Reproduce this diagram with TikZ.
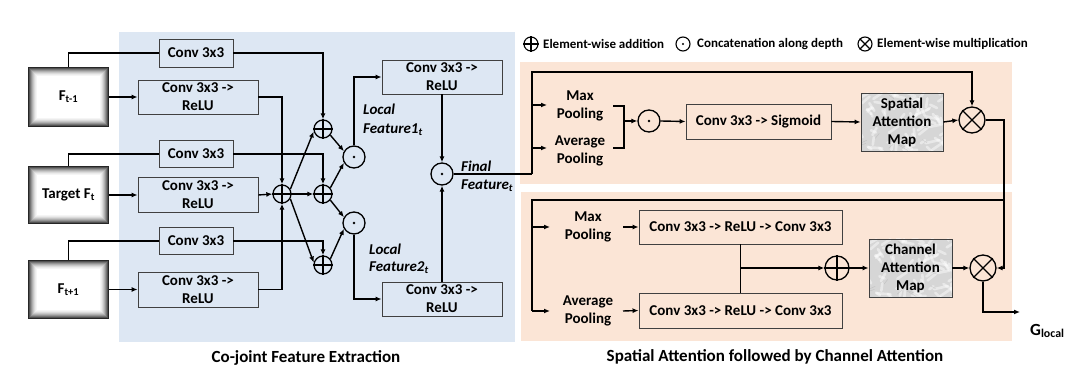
\documentclass[tikz,border=0pt]{standalone}
\usepackage{fontspec}
\setmainfont{Carlito}
\usetikzlibrary{arrows.meta,calc}
\definecolor{bluebg}{RGB}{221,231,243}
\definecolor{orbg}{RGB}{251,229,214}
\definecolor{edgec}{RGB}{64,64,64}
\begin{document}
\begin{tikzpicture}[x=1pt,y=-1pt,
  conn/.style={line width=1.4pt},
  arr/.style={line width=1.4pt,-{Latex[length=6pt,width=5pt]}},
  blk/.style={draw=edgec,line width=0.9pt,inner sep=0,align=center,font=\bfseries\fontsize{15}{18}\selectfont},
  op/.style={circle,draw=black,line width=1.3pt,inner sep=0},
  txt/.style={font=\bfseries\fontsize{15}{18}\selectfont,align=center,inner sep=0},
  itxt/.style={font=\bfseries\itshape\fontsize{15}{18}\selectfont,anchor=west,inner sep=0},
  lgtxt/.style={font=\bfseries\fontsize{13}{15}\selectfont,anchor=west,inner sep=0},
  ttl/.style={font=\bfseries\fontsize{17}{20}\selectfont,inner sep=0},
  inbox/.style={inner sep=0,align=center,font=\bfseries\fontsize{15}{18}\selectfont,fill=white,
    path picture={
      \foreach \i/\c in {0/15,1/32,2/46,3/58,4/69,5/78,6/86,7/92,8/96,9/100}{
        \fill[white!\c!black] ([shift={(\i pt,-\i pt)}]path picture bounding box.north west)
          rectangle ([shift={(-\i pt,\i pt)}]path picture bounding box.south east);
      }
    }},
  mapbox/.style={blk,fill=black!16,
    path picture={
      \pgfmathsetseed{11}
      \foreach \k in {1,...,70}{
        \pgfmathsetmacro\xa{rand*42}\pgfmathsetmacro\ya{rand*30}
        \pgfmathsetmacro\xb{\xa+rand*14}\pgfmathsetmacro\yb{\ya+rand*9}
        \draw[white,opacity=.45,line width=2.6pt,line cap=round]
          ([shift={(\xa pt,\ya pt)}]path picture bounding box.center) --
          ([shift={(\xb pt,\yb pt)}]path picture bounding box.center);
      }
      \foreach \k in {1,...,12}{
        \pgfmathsetmacro\xa{rand*42}\pgfmathsetmacro\ya{rand*30}
        \pgfmathsetmacro\xb{\xa+rand*10}\pgfmathsetmacro\yb{\ya+rand*6}
        \draw[black!40,opacity=.35,line width=.4pt,line cap=round]
          ([shift={(\xa pt,\ya pt)}]path picture bounding box.center) --
          ([shift={(\xb pt,\yb pt)}]path picture bounding box.center);
      }
    }}
]
\useasboundingbox (0,0) rectangle (1077,371);
\fill[white] (0,0) rectangle (1077,371);

% panels
\fill[bluebg] (119,32) rectangle (515,342);
\fill[orbg] (520,62) rectangle (1012,184);
\fill[orbg] (521,192) rectangle (1012,341);

% legend
\node[op,minimum size=14pt,line width=1.1pt] (lg1) at (531,44) {};
\draw[line width=1.1pt] (lg1.north)--(lg1.south) (lg1.west)--(lg1.east);
\node[lgtxt] (lgt1) at (543,44) {Element-wise addition};
\node[op,minimum size=14pt,line width=1.1pt] (lg2) at (683,44) {};
\fill (lg2) circle (1.2pt);
\node[lgtxt] (lgt2) at (697,44) {Concatenation along depth};
\node[op,minimum size=14pt,line width=1.1pt] (lg3) at (865,44) {};
\draw[line width=1.1pt] (lg3.north west)--(lg3.south east) (lg3.north east)--(lg3.south west);
\node[lgtxt] (lgt3) at (877,44) {Element-wise multiplication};

% inputs
\node[inbox,minimum width=81pt,minimum height=60pt] (in1) at (68.5,97) {F\textsubscript{t-1}};
\node[inbox,minimum width=81pt,minimum height=58pt] (in2) at (68.5,195) {Target F\textsubscript{t}};
\node[inbox,minimum width=81pt,minimum height=59pt] (in3) at (68.5,289.5) {F\textsubscript{t+1}};

% conv boxes
\node[blk,minimum width=74pt,minimum height=28pt] (c1) at (196,53) {Conv 3x3};
\node[blk,minimum width=74pt,minimum height=27pt] (c2) at (196,154) {Conv 3x3};
\node[blk,minimum width=74pt,minimum height=27pt] (c3) at (196,241) {Conv 3x3};
\node[blk,minimum width=120pt,minimum height=34pt] (r1) at (198,97) {Conv 3x3 ->\\ReLU};
\node[blk,minimum width=120pt,minimum height=35pt] (r2) at (198,195) {Conv 3x3 ->\\ReLU};
\node[blk,minimum width=120pt,minimum height=35pt] (r3) at (198,289.5) {Conv 3x3 ->\\ReLU};

% operators
\node[op,minimum size=18pt] (pm) at (282,194) {};
\node[op,minimum size=18pt] (p1) at (323,129) {};
\node[op,minimum size=18pt] (p2) at (323,194) {};
\node[op,minimum size=18pt] (p3) at (323,265) {};
\foreach \n in {pm,p1,p2,p3}{\draw[line width=1.3pt] (\n.north)--(\n.south) (\n.west)--(\n.east);}
\node[op,minimum size=22pt] (d1) at (354,157) {};
\node[op,minimum size=22pt] (d2) at (354,223) {};
\node[op,minimum size=22pt] (df) at (442,174) {};
\foreach \n in {d1,d2,df}{\fill (\n) circle (1.4pt);}

\node[blk,minimum width=120pt,minimum height=34pt] (ra) at (442,77) {Conv 3x3 ->\\ReLU};
\node[blk,minimum width=120pt,minimum height=34pt] (rb) at (442,299) {Conv 3x3 ->\\ReLU};

\node[itxt] (lf1a) at (363,109) {Local};
\node[itxt] (lf1b) at (363,130) {Feature1\textsubscript{t}};
\node[itxt] (lf2a) at (369,249) {Local};
\node[itxt] (lf2b) at (369,268) {Feature2\textsubscript{t}};
\node[itxt] (ffa) at (461,166) {Final};
\node[itxt] (ffb) at (461,186) {Feature\textsubscript{t}};

% left connectors
\draw[arr] (in1.east) -- (r1.west);
\draw[arr] (in2.east) -- (r2.west);
\draw[arr] (in3.east) -- (r3.west);
\draw[conn] (in1.north) |- (c1.west);
\draw[conn] (in2.north) |- (c2.west);
\draw[conn] (in3.north) |- (c3.west);
\draw[arr] (c1.east) -| (p1.north);
\draw[arr] (c2.east) -| (p2.north);
\draw[arr] (c3.east) -| (p3.north);
\draw[arr] (r1.east) -| (pm.north);
\draw[arr] (r3.east) -| (pm.south);
\draw[arr] (r2.east) -- (pm.west);
\draw[arr] (pm.east) -- (p2.west);
\draw[arr] (pm.30) -- (p1.195);
\draw[arr] (pm.-30) -- (p3.165);
\draw[arr] (p1.-40) -- (d1.150);
\draw[arr] (p2.40) -- (d1.210);
\draw[arr] (p2.-40) -- (d2.150);
\draw[arr] (p3.40) -- (d2.210);
\draw[arr] (d1.north) |- (ra.west);
\draw[arr] (d2.south) |- (rb.west);
\draw[arr] (ra.south) -- (df.north);
\draw[arr] (rb.north) -- (df.south);

% spatial attention
\coordinate (jt1) at (532,174);
\coordinate (jt2) at (532,72);
\node[txt] (mp1) at (580,106) {Max\\Pooling};
\node[txt] (ap1) at (580,151) {Average\\Pooling};
\node[op,minimum size=22pt] (ds) at (649,121) {};
\fill (ds) circle (1.4pt);
\node[blk,minimum width=145pt,minimum height=35pt] (sg) at (758.5,121.5) {Conv 3x3 -> Sigmoid};
\node[mapbox,minimum width=82pt,minimum height=58pt] (sam) at (902,122) {Spatial\\Attention\\Map};
\node[op,minimum size=26pt] (xm1) at (972,120) {};
\draw[line width=1.3pt] (xm1.north west)--(xm1.south east) (xm1.north east)--(xm1.south west);

\draw[conn] (df.east) -- (jt1);
\draw[arr] (jt1) -- (jt2) -| (xm1.north);
\draw[arr] (532,105) -- (547,105);
\draw[arr] (532,148) -- (547,148);
\draw[conn] (613,106) -- (624,106) -- (624,148) -- (613,148);
\coordinate (brk) at (624,121);
\draw[arr] (brk) -- (ds.west);
\draw[arr] (ds.east) -- (sg.west);
\draw[arr] (sg.east) -- (sam.west);
\draw[arr] (sam.east) -- (xm1.west);

% channel attention
\coordinate (jr) at (1004,268);
\coordinate (jb1) at (1004,200);
\coordinate (jb2) at (532,200);
\coordinate (jb3) at (532,311);
\node[txt] (mp2) at (588,227) {Max\\Pooling};
\node[txt] (ap2) at (588,311) {Average\\Pooling};
\node[blk,minimum width=203pt,minimum height=34pt] (b1) at (740.5,227) {Conv 3x3 -> ReLU -> Conv 3x3};
\node[blk,minimum width=203pt,minimum height=35pt] (b2) at (740.5,310.5) {Conv 3x3 -> ReLU -> Conv 3x3};
\node[op,minimum size=24pt] (pb) at (837,268) {};
\draw[line width=1.3pt] (pb.north)--(pb.south) (pb.west)--(pb.east);
\node[mapbox,minimum width=83pt,minimum height=58pt] (cam) at (910.5,268) {Channel\\Attention\\Map};
\node[op,minimum size=26pt] (xm2) at (983,268) {};
\draw[line width=1.3pt] (xm2.north west)--(xm2.south east) (xm2.north east)--(xm2.south west);
\coordinate (gout) at (1020,312);
\node[font=\bfseries\fontsize{17}{20}\selectfont,anchor=west,inner sep=0] (gl) at (1030,331) {G\textsubscript{local}};

\draw[arr] (xm1.east) -| (jr) -- (xm2.east);
\draw[conn] (jb1) -- (jb2) -- (jb3);
\draw[arr] (532,227) -- (550,227);
\draw[arr] (jb3) -- (550,311);
\draw[arr] (623,227) -- (b1.west);
\draw[arr] (623,311) -- (b2.west);
\draw[conn] (b1.south) -- (b2.north);
\draw[arr] (b1.south |- pb) -- (pb.west);
\draw[arr] (pb.east) -- (cam.west);
\draw[arr] (cam.east) -- (xm2.west);
\draw[arr] (xm2.south) |- (gout);

% titles
\node[ttl] (t1) at (306,358) {Co-joint Feature Extraction};
\node[ttl] (t2) at (775,357) {Spatial Attention followed by Channel Attention};
\end{tikzpicture}
\end{document}
